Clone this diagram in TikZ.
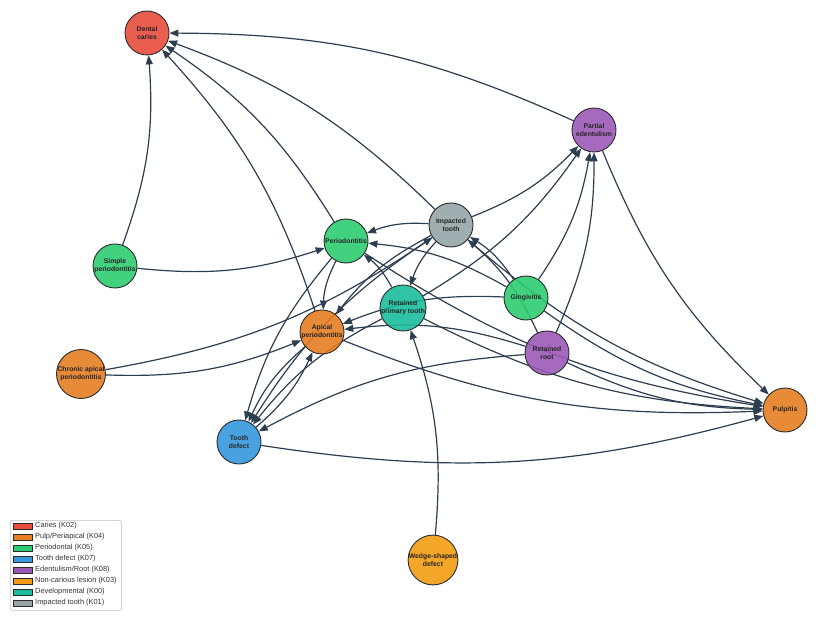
\documentclass[tikz,border=0pt]{standalone}
\usepackage{fontspec}
\setmainfont{Liberation Sans}
\usetikzlibrary{arrows.meta,backgrounds}
\definecolor{cCaries}{HTML}{E74C3C}
\definecolor{cPulp}{HTML}{E67E22}
\definecolor{cPerio}{HTML}{2ECC71}
\definecolor{cDefect}{HTML}{3498DB}
\definecolor{cEdent}{HTML}{9B59B6}
\definecolor{cNonCar}{HTML}{F39C12}
\definecolor{cDevel}{HTML}{1ABC9C}
\definecolor{cImpact}{HTML}{95A5A6}
\definecolor{cEdge}{HTML}{2C3E50}
\definecolor{cBorder}{HTML}{2B2B2B}
\tikzset{
  dnode/.style={circle, minimum size=44pt, inner sep=0pt, draw=cBorder, line width=0.9pt,
    fill opacity=0.9, text opacity=1, align=center,
    font=\fontsize{6.8}{8}\selectfont\bfseries, text=black!85},
  rel/.style={draw=cEdge, line width=1.2pt, -{Triangle[length=9pt,width=7pt]}, bend right=12},
  legpatch/.style={draw=cBorder, line width=0.5pt, minimum width=19pt, minimum height=6.5pt, inner sep=0pt, anchor=west},
  legtext/.style={anchor=west, inner sep=0pt, font=\fontsize{7.4}{8}\selectfont, text=black!80},
}
\begin{document}
\begin{tikzpicture}[x=1pt,y=-1pt]
\useasboundingbox (0,0) rectangle (818,620);
% nodes
\node[dnode, fill=cCaries] (dc) at (147,33) {Dental\\caries};
\node[dnode, fill=cEdent] (pe) at (594,130) {Partial\\edentulism};
\node[dnode, fill=cImpact] (it) at (451,225) {Impacted\\tooth};
\node[dnode, fill=cPerio] (pd) at (346,241) {Periodontitis};
\node[dnode, fill=cPerio] (sp) at (115,266) {Simple\\periodontitis};
\node[dnode, fill=cPerio] (gg) at (526,298) {Gingivitis};
\node[dnode, fill=cDevel] (rp) at (403,308) {Retained\\primary tooth};
\node[dnode, fill=cPulp] (ap) at (322,332) {Apical\\periodontitis};
\node[dnode, fill=cEdent] (rr) at (547,353) {Retained\\root};
\node[dnode, fill=cPulp] (ca) at (81,374) {Chronic apical\\periodontitis};
\node[dnode, fill=cDefect] (td) at (239,442) {Tooth\\defect};
\node[dnode, fill=cPulp] (pu) at (785,410) {Pulpitis};
\node[dnode, fill=cNonCar] (wd) at (433,560) {Wedge-shaped\\defect};
% edges
\begin{pgfonlayer}{background}
\draw[rel] (sp) to (dc);
\draw[rel] (ap) to (dc);
\draw[rel] (pd) to (dc);
\draw[rel] (it) to (dc);
\draw[rel] (pe) to (dc);
\draw[rel] (sp) to (pd);
\draw[rel] (it) to (pd);
\draw[rel] (gg) to (pd);
\draw[rel] (rp) to (pd);
\draw[rel] (pd) to (ap);
\draw[rel] (pd) to (td);
\draw[rel] (pd) to (pu);
\draw[rel] (it) to (pe);
\draw[rel] (rp) to (pe);
\draw[rel] (gg) to (pe);
\draw[rel] (rr) to (pe);
\draw[rel] (pe) to (pu);
\draw[rel] (gg) to (it);
\draw[rel] (rr) to (it);
\draw[rel] (ca) to (it);
\draw[rel] (it) to (rp);
\draw[rel] (it) to (ap);
\draw[rel] (it) to (pu);
\draw[rel] (ca) to (ap);
\draw[rel] (gg) to (ap);
\draw[rel] (rr) to (ap);
\draw[rel] (td) to (ap);
\draw[rel] (ap) to (td);
\draw[rel] (it) to (td);
\draw[rel] (rp) to (td);
\draw[rel] (rr) to (td);
\draw[rel] (td) to (pu);
\draw[rel] (wd) to (rp);
\draw[rel] (rp) to (pu);
\draw[rel] (ap) to (pu);
\draw[rel] (gg) to (pu);
\draw[rel] (rr) to (pu);
\end{pgfonlayer}
% legend
\node[draw=black!25, line width=0.6pt, rounded corners=2pt, minimum width=111pt, minimum height=90pt, inner sep=0pt, anchor=north west] (legbox) at (10,520) {};
\node[legpatch, fill=cCaries] (l1) at (13,526) {};
\node[legtext] (t1) at (35,526) {Caries (K02)};
\node[legpatch, fill=cPulp] (l2) at (13,537) {};
\node[legtext] (t2) at (35,537) {Pulp/Periapical (K04)};
\node[legpatch, fill=cPerio] (l3) at (13,548) {};
\node[legtext] (t3) at (35,548) {Periodontal (K05)};
\node[legpatch, fill=cDefect] (l4) at (13,559) {};
\node[legtext] (t4) at (35,559) {Tooth defect (K07)};
\node[legpatch, fill=cEdent] (l5) at (13,570) {};
\node[legtext] (t5) at (35,570) {Edentulism/Root (K08)};
\node[legpatch, fill=cNonCar] (l6) at (13,581) {};
\node[legtext] (t6) at (35,581) {Non-carious lesion (K03)};
\node[legpatch, fill=cDevel] (l7) at (13,592) {};
\node[legtext] (t7) at (35,592) {Developmental (K00)};
\node[legpatch, fill=cImpact] (l8) at (13,603) {};
\node[legtext] (t8) at (35,603) {Impacted tooth (K01)};
\end{tikzpicture}
\end{document}
